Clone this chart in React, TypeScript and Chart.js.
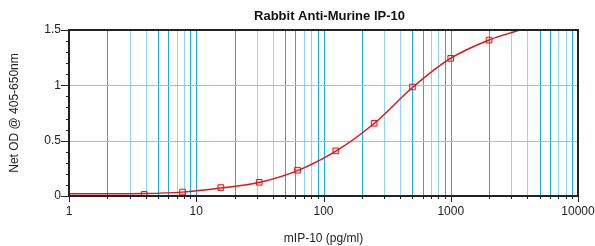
import React, { useEffect, useRef } from 'react';
import { Chart, registerables } from 'chart.js';

Chart.register(...registerables);

const TITLE = 'Rabbit Anti-Murine IP-10';
const X_TITLE = 'mIP-10 (pg/ml)';
const Y_TITLE = 'Net OD @ 405-650nm';

// standards (pg/ml) and measured OD
const concentrations = [3.9, 7.8, 15.6, 31.25, 62.5, 125, 250, 500, 1000, 2000];
const odValues = [0.015, 0.036, 0.076, 0.124, 0.233, 0.408, 0.657, 0.985, 1.244, 1.409];

// fitted curve
const fitX = [1, 2, 3.9, 7.8, 15.6, 31.25, 62.5, 125, 250, 500, 1000, 2000, 3500];
const fitY = [0.02, 0.02, 0.022, 0.035, 0.072, 0.122, 0.229, 0.405, 0.655, 0.98, 1.245, 1.41, 1.5];

// axis ticks
const xDecades = [1, 10, 100, 1000];
const xMultipliers = [1, 2, 3, 4, 5, 6, 7, 8, 9];
const xTickValues = [...xDecades.flatMap((d) => xMultipliers.map((m) => d * m)), 10000];
const xTickShade = [...xDecades.flatMap(() => xMultipliers.map((m) => [1, 2, 5, 6, 9].includes(m))), true];
const xLabelValues = [1, 10, 100, 1000, 10000];
const yTickValues = [0, 0.5, 1, 1.5];
const yGridValues = [0.5, 1];
const yMinorTicks = [0, 0.1, 0.2, 0.3, 0.4, 0.5, 0.6, 0.7, 0.8, 0.9, 1.0, 1.1, 1.2, 1.3, 1.4, 1.5];

const GRID_DARK = 'rgb(20,176,238)';
const GRID_LIGHT = 'rgb(138,216,246)';
const GRID_H = 'rgb(111,208,246)';
const RED = 'rgb(230,18,18)';
const FONT = "'Liberation Sans', Arial, Helvetica, sans-serif";

const gridPlugin = {
  id: 'customGrid',
  beforeDatasetsDraw(chart: any) {
    const { ctx, chartArea } = chart;
    const xs = chart.scales.x;
    const ys = chart.scales.y;
    ctx.save();
    const top = Math.round(chartArea.top);
    const h = Math.round(chartArea.bottom) - top;
    xTickValues.forEach((v, i) => {
      const px = Math.round(xs.getPixelForValue(v));
      ctx.fillStyle = xTickShade[i] ? GRID_DARK : GRID_LIGHT;
      ctx.fillRect(px, top, 1, h);
    });
    ctx.fillStyle = GRID_H;
    const left = Math.round(chartArea.left);
    const w = Math.round(chartArea.right) - left;
    yGridValues.forEach((v) => {
      const py = Math.round(ys.getPixelForValue(v));
      ctx.fillRect(left, py, w, 1);
    });
    ctx.restore();
  },
};

const framePlugin = {
  id: 'frameTicks',
  afterDraw(chart: any) {
    const { ctx, chartArea } = chart;
    const xs = chart.scales.x;
    const ys = chart.scales.y;
    ctx.save();
    ctx.strokeStyle = '#222';
    ctx.lineWidth = 1;
    ctx.beginPath();
    xTickValues.forEach((v) => {
      const px = Math.round(xs.getPixelForValue(v)) + 0.5;
      const len = xLabelValues.includes(v) ? 6 : 3;
      ctx.moveTo(px, chartArea.bottom);
      ctx.lineTo(px, chartArea.bottom + len);
    });
    yMinorTicks.forEach((v) => {
      const py = Math.round(ys.getPixelForValue(v)) + 0.5;
      const len = yTickValues.some((t) => Math.abs(t - v) < 1e-9) ? 8 : 3;
      ctx.moveTo(chartArea.left, py);
      ctx.lineTo(chartArea.left - len, py);
    });
    ctx.stroke();
    ctx.lineWidth = 2;
    ctx.strokeStyle = '#222';
    ctx.strokeRect(chartArea.left, chartArea.top, chartArea.right - chartArea.left, chartArea.bottom - chartArea.top);
    // title
    ctx.fillStyle = '#111';
    ctx.font = `bold 13px ${FONT}`;
    ctx.textAlign = 'center';
    ctx.textBaseline = 'alphabetic';
    ctx.fillText(TITLE, (chartArea.left + chartArea.right) / 2 + 6, 20);
    ctx.restore();
  },
};

export default function App() {
  const ref = useRef<HTMLCanvasElement | null>(null);

  useEffect(() => {
    document.body.style.margin = '0';
    if (!ref.current) return;
    Chart.defaults.font.family = FONT;
    Chart.defaults.font.size = 12;
    Chart.defaults.color = '#222';

    const chart = new Chart(ref.current, {
      type: 'scatter',
      data: {
        datasets: [
          {
            label: 'standards',
            data: concentrations.map((x, i) => ({ x, y: odValues[i] })),
            showLine: false,
            pointStyle: 'rect',
            pointRadius: 4,
            pointBorderWidth: 1,
            pointBorderColor: RED,
            pointBackgroundColor: 'rgba(255,80,80,0.12)',
            order: 0,
          },
          {
            label: 'fit',
            data: fitX.map((x, i) => ({ x, y: fitY[i] })),
            showLine: true,
            borderColor: RED,
            borderWidth: 1.5,
            pointRadius: 0,
            cubicInterpolationMode: 'monotone',
            order: 1,
          },
        ],
      },
      options: {
        animation: false,
        responsive: false,
        layout: { padding: { top: 30, right: 17, left: 0, bottom: 0 } },
        plugins: {
          legend: { display: false },
          tooltip: { enabled: false },
          title: { display: false },
        },
        scales: {
          x: {
            type: 'logarithmic',
            min: 1,
            max: 10000,
            afterBuildTicks(scale: any) {
              scale.ticks = xTickValues.map((v) => ({ value: v, major: false }));
            },
            afterFit(scale: any) {
              scale.height = 50;
              scale.paddingLeft = 0;
              scale.paddingRight = 0;
            },
            ticks: {
              autoSkip: false,
              maxRotation: 0,
              minRotation: 0,
              padding: 8,
              color: '#222',
              font: { size: 12 },
              major: { enabled: false },
              callback: (v: any) => (xLabelValues.includes(Number(v)) ? String(v) : ''),
            },
            grid: { display: false, drawTicks: false },
            border: { display: false },
            title: {
              display: true,
              text: X_TITLE,
              color: '#222',
              font: { size: 12 },
              padding: { top: 2, bottom: 0 },
            },
          },
          y: {
            type: 'linear',
            min: 0,
            max: 1.5,
            afterBuildTicks(scale: any) {
              scale.ticks = yTickValues.map((v) => ({ value: v }));
            },
            afterFit(scale: any) {
              scale.width = 69;
              scale.paddingTop = 0;
              scale.paddingBottom = 0;
            },
            ticks: {
              padding: 8,
              color: '#222',
              font: { size: 12 },
              callback: (v: any) => String(v),
            },
            grid: { display: false, drawTicks: false },
            border: { display: false },
            title: {
              display: true,
              text: Y_TITLE,
              color: '#222',
              font: { size: 12 },
              padding: { top: 7, bottom: 0 },
            },
          },
        },
      },
      plugins: [gridPlugin, framePlugin],
    } as any);

    return () => chart.destroy();
  }, []);

  return (
    <div style={{ width: 595, height: 246 }}>
      <canvas ref={ref} width={595} height={246} style={{ display: 'block' }} />
    </div>
  );
}
